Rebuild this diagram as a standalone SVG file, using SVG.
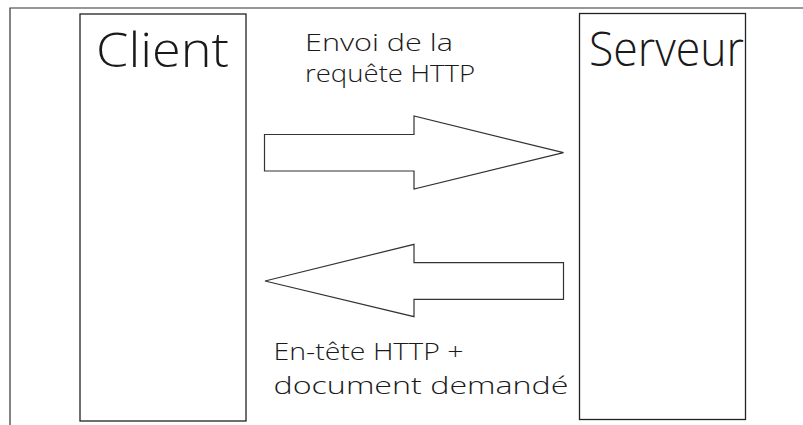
<svg xmlns="http://www.w3.org/2000/svg" width="803" height="425" viewBox="0 0 803 425">
  <style>
    .frame { fill: none; stroke: #333; stroke-width: 1.2; }
    .box { fill: #fff; stroke: #222; stroke-width: 1.3; }
    .arrow { fill: #fff; stroke: #333; stroke-width: 1.2; stroke-linejoin: miter; }
    .title { font-family: "Open Sans", "Liberation Sans", Arial, sans-serif; font-weight: 300; font-size: 47px; fill: #1a1a1a; }
    .label { font-family: "Open Sans", "Liberation Sans", Arial, sans-serif; font-weight: 300; font-size: 24px; fill: #1a1a1a; }
  </style>
  <rect width="803" height="425" fill="#fff"/>

  <!-- page frame (top and left edges only) -->
  <path class="frame" d="M10,425 V8 H803"/>

  <g id="client">
    <rect class="box" x="80" y="14" width="166" height="407"/>
    <text class="title" x="96" y="66.5" textLength="133" lengthAdjust="spacingAndGlyphs">Client</text>
  </g>

  <g id="serveur">
    <rect class="box" x="579.5" y="13.5" width="166" height="406"/>
    <text class="title" x="589" y="65.5" textLength="155" lengthAdjust="spacingAndGlyphs">Serveur</text>
  </g>

  <g id="connectors">
    <g id="requete">
      <path class="arrow" d="M264.5,134.5 H414 V116 L563.5,152.7 L414,189 V171 H264.5 Z"/>
      <text class="label" x="305" y="51" textLength="148" lengthAdjust="spacingAndGlyphs">Envoi de la</text>
      <text class="label" x="305" y="81.5" textLength="170" lengthAdjust="spacingAndGlyphs">requête HTTP</text>
    </g>
    <g id="reponse">
      <path class="arrow" d="M563.5,262.7 H414 V244.3 L265,281 L414,316.7 V299.3 H563.5 Z"/>
      <text class="label" x="273.5" y="360" textLength="190" lengthAdjust="spacingAndGlyphs">En-tête HTTP +</text>
      <text class="label" x="273.5" y="393.5" textLength="295" lengthAdjust="spacingAndGlyphs">document demandé</text>
    </g>
  </g>
</svg>
